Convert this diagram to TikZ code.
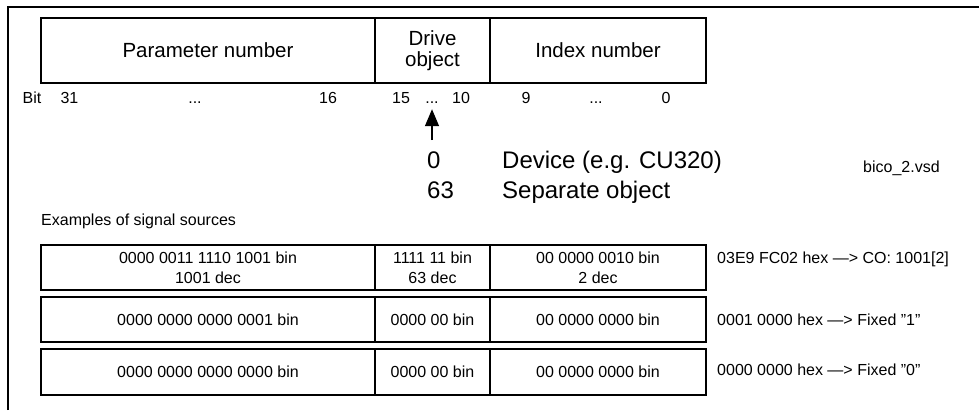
\documentclass[tikz,border=0pt]{standalone}
\usepackage{fontspec}
\setmainfont{Liberation Sans}
\usepackage{xcolor}
\usetikzlibrary{arrows.meta, positioning}

\begin{document}
\begin{tikzpicture}[
  x=1pt, y=-1pt,
  feld/.style={
    rectangle, draw=black, line width=1.1pt,
    minimum height=65pt, align=center, inner sep=0pt,
    font=\fontsize{20.5}{21}\selectfont
  },
  zeile/.style={
    rectangle, draw=black, line width=1.1pt,
    minimum height=45pt, align=center, inner sep=0pt,
    font=\fontsize{16}{20}\selectfont
  },
  bitnr/.style={anchor=base, inner sep=0pt, font=\fontsize{16}{20}\selectfont},
  gross/.style={anchor=base west, inner sep=0pt, font=\fontsize{24}{28}\selectfont},
  klein/.style={anchor=base west, inner sep=0pt, font=\fontsize{16}{20}\selectfont},
  arr/.style={-{Triangle[length=17pt, width=14pt]}, line width=1.4pt},
  rahmen/.style={line width=1.6pt},
]
\useasboundingbox (0,0) rectangle (979,410);

%% Rahmen
\draw[rahmen] (8,410) -- (8,7) -- (979,7);

%% Aufbau des Signalquellen-Worts
\node[feld, minimum width=334pt] (param) at (208,50.5)   {Parameter number};
\node[feld, minimum width=115pt] (drive) at (432.5,50.5) {Drive\\object};
\node[feld, minimum width=216pt] (index) at (598,50.5)   {Index number};

%% Bitnummern
\node[bitnr] (bit)    at (32,103)  {Bit};
\node[bitnr] (b31)    at (69.5,103) {31};
\node[bitnr] (bdotsP) at (195,103) {...};
\node[bitnr] (b16)    at (328,103) {16};
\node[bitnr] (b15)    at (401,103) {15};
\node[bitnr] (bdotsD) at (432,103) {...};
\node[bitnr] (b10)    at (461,103) {10};
\node[bitnr] (b9)     at (526,103) {9};
\node[bitnr] (bdotsI) at (596,103) {...};
\node[bitnr] (b0)     at (666,103) {0};

%% Drive object Werte
\node[gross] (null)   at (427,168) {0};
\node[gross] (dreiundsechzig) at (427,198) {63};
\node[gross] (geraet) at (502,168) {Device (e.g. CU320)};
\node[gross] (separat) at (502,198) {Separate object};
\node[klein] (datei)  at (863,172) {bico\_2.vsd};

\coordinate (pfeil) at (432,140);
\draw[arr, shorten >=6pt] (pfeil) -- (bdotsD.south);

%% Beispiele
\node[klein] (beispiele) at (41,225) {Examples of signal sources};

\node[zeile, minimum width=334pt] (p1) at (208,267.5) {0000 0011 1110 1001 bin\\1001 dec};
\node[zeile, minimum width=115pt] (d1) at (432.5,267.5) {1111 11 bin\\63 dec};
\node[zeile, minimum width=216pt] (i1) at (598,267.5) {00 0000 0010 bin\\2 dec};
\node[klein] (h1) at (717,263) {03E9 FC02 hex —> CO: 1001[2]};

\node[zeile, minimum width=334pt] (p2) at (208,319.5) {0000 0000 0000 0001 bin};
\node[zeile, minimum width=115pt] (d2) at (432.5,319.5) {0000 00 bin};
\node[zeile, minimum width=216pt] (i2) at (598,319.5) {00 0000 0000 bin};
\node[klein] (h2) at (717,325) {0001 0000 hex —> Fixed ”1”};

\node[zeile, minimum width=334pt, minimum height=46pt] (p3) at (208,372) {0000 0000 0000 0000 bin};
\node[zeile, minimum width=115pt, minimum height=46pt] (d3) at (432.5,372) {0000 00 bin};
\node[zeile, minimum width=216pt, minimum height=46pt] (i3) at (598,372) {00 0000 0000 bin};
\node[klein] (h3) at (717,375) {0000 0000 hex —> Fixed ”0”};

\end{tikzpicture}
\end{document}
